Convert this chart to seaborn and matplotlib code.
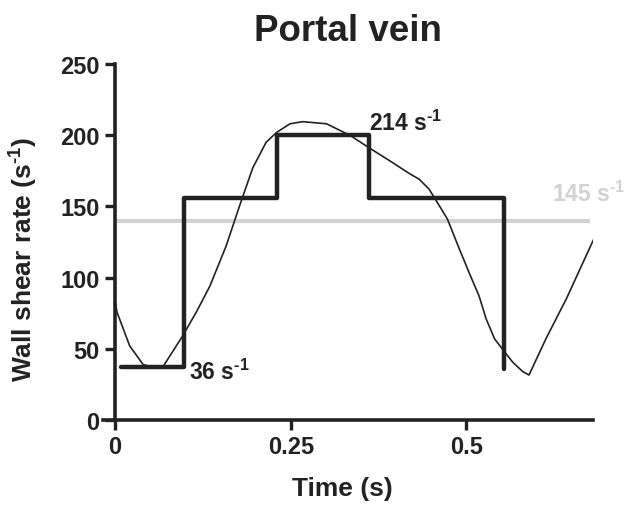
import matplotlib
matplotlib.use("Agg")
import matplotlib.pyplot as plt
import seaborn as sns
import pandas as pd

# ---- data ----
curve_t = [0.0, 0.003, 0.021, 0.040, 0.054, 0.069, 0.095, 0.116, 0.135, 0.158, 0.177,
           0.196, 0.215, 0.230, 0.249, 0.267, 0.301, 0.334, 0.362, 0.391, 0.419, 0.433,
           0.447, 0.462, 0.473, 0.490, 0.505, 0.518, 0.528, 0.540, 0.554, 0.566, 0.580,
           0.589, 0.613, 0.642, 0.682]
curve_v = [84, 75.6, 52, 39, 37, 38, 58, 76, 94, 122, 150,
           177, 195, 202, 208, 209.5, 208, 200, 191, 182, 173, 169,
           162, 150, 141, 120, 102, 87, 71, 57, 48, 40.5, 34,
           31.6, 57, 85, 128]

step_t = [0.008, 0.098, 0.230, 0.362, 0.554]
step_v = [37, 156, 200, 156, 36]

mean_t = [0.0, 0.676]
mean_v = [140, 140]

labels = ["36 s$^{\u2010 1}$", "214 s$^{\u2010 1}$", "145 s$^{\u2010 1}$"]
label_t = [0.105, 0.362, 0.622]
label_v = [34, 209, 159]

x_ticks = [0, 0.25, 0.5]
x_ticklabels = ["0", "0.25", "0.5"]
y_ticks = [0, 50, 100, 150, 200, 250]

# ---- style ----
sns.set_style("ticks")
plt.rcParams['font.family'] = ['Liberation Sans', 'DejaVu Sans']
plt.rcParams['font.weight'] = 'bold'
plt.rcParams['mathtext.fontset'] = 'custom'
plt.rcParams['mathtext.rm'] = 'Liberation Sans:bold'
plt.rcParams['mathtext.it'] = 'Liberation Sans:bold'
plt.rcParams['mathtext.bf'] = 'Liberation Sans:bold'
plt.rcParams['mathtext.default'] = 'rm'

TXT = '#222222'
fig = plt.figure(figsize=(6.35, 5.06), dpi=100)
ax = fig.add_axes([103/635, 1-421/506, (593-103)/635, (421-65)/506])

df_curve = pd.DataFrame({"t": curve_t, "v": curve_v})
df_step = pd.DataFrame({"t": step_t, "v": step_v})
df_mean = pd.DataFrame({"t": mean_t, "v": mean_v})

sns.lineplot(data=df_mean, x="t", y="v", ax=ax, color='#d2d2d2', linewidth=3.0,
             sort=False, estimator=None, solid_capstyle='butt')
sns.lineplot(data=df_step, x="t", y="v", ax=ax, color=TXT, linewidth=3.2,
             sort=False, estimator=None, drawstyle='steps-post')
sns.lineplot(data=df_curve, x="t", y="v", ax=ax, color=TXT, linewidth=1.2,
             sort=False, estimator=None)

colors = [TXT, TXT, '#d2d2d2']
for lab, tx, ty, c in zip(labels, label_t, label_v, colors):
    ax.text(tx, ty, lab, fontsize=16.5, fontweight='bold', color=c, ha='left', va='center')

ax.set_xlim(-0.017, 0.68)
ax.set_ylim(0, 250)
ax.spines['left'].set_position(('data', 0))
ax.spines['right'].set_visible(False)
ax.spines['top'].set_visible(False)
for s in ['left', 'bottom']:
    ax.spines[s].set_linewidth(2.6)
    ax.spines[s].set_color(TXT)
ax.set_xticks(x_ticks)
ax.set_xticklabels(x_ticklabels)
ax.set_yticks(y_ticks)
ax.tick_params(axis='both', length=7, width=2.4, color=TXT, labelsize=17,
               labelcolor=TXT, pad=4)
for lab in ax.get_xticklabels() + ax.get_yticklabels():
    lab.set_fontweight('bold')

ax.set_xlabel("Time (s)", fontsize=19, fontweight='bold', color=TXT)
ax.set_ylabel("Wall shear rate (s$^{\u2010 1}$)", fontsize=19, fontweight='bold', color=TXT)
ax.xaxis.set_label_coords(0.488, -0.158)
ax.yaxis.set_label_coords(-0.128, 0.455)
ax.set_title("Portal vein", fontsize=26.5, fontweight='bold', color=TXT, pad=17)

fig.savefig("out.png", dpi=100)
